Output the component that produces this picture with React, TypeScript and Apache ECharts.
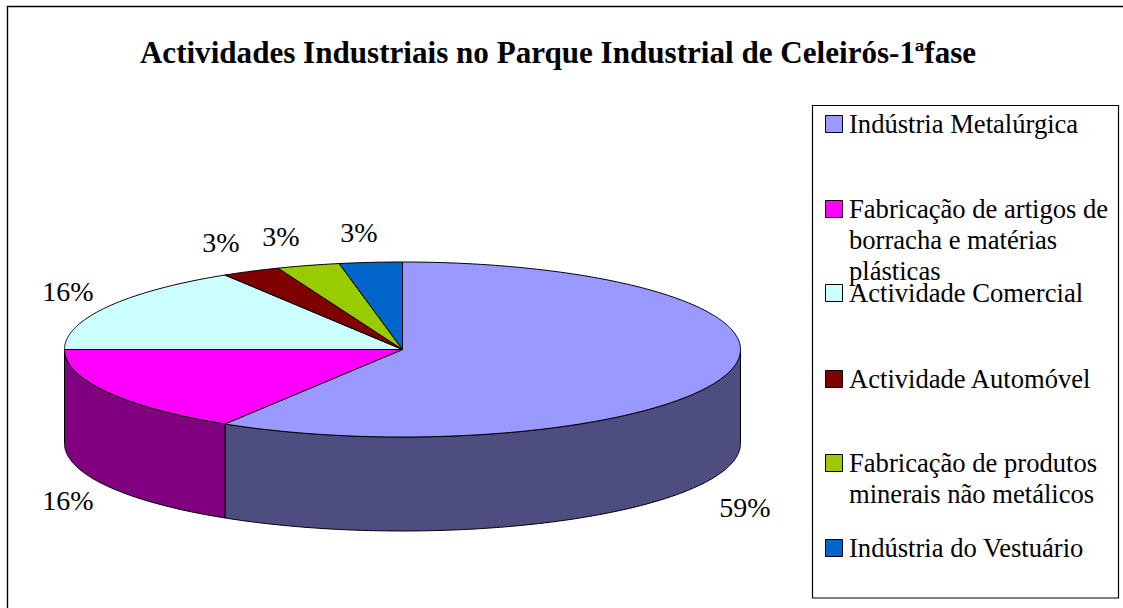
import React, { useEffect, useRef } from "react";
import * as echarts from "echarts";

const titleText = "Actividades Industriais no Parque Industrial de Celeirós-1ªfase";
const categories = [
  "Indústria Metalúrgica",
  "Fabricação de artigos de\nborracha e matérias\nplásticas",
  "Actividade Comercial",
  "Actividade Automóvel",
  "Fabricação de produtos\nminerais não metálicos",
  "Indústria do Vestuário",
];
const values = [58.8, 16.2, 16.2, 2.8, 3.0, 3.0];
const topColors = ["#9999FF", "#FF00FF", "#CCFFFF", "#800000", "#99CC00", "#0066CC"];
const sideColors = ["#4D4D80", "#800080", "#668080", "#400000", "#4D6600", "#003366"];

const CX = 402.5;
const CY = 349.5;
const RX = 338;
const RY = 87.5;
const DEPTH = 94;
const FONT = '"Liberation Serif", "Times New Roman", serif';
const labelPos = [
  [745, 507],
  [68, 500],
  [68, 291],
  [221, 242],
  [281, 236],
  [359, 232],
];
const legendTops = [124, 209, 293, 379, 463, 548];

const total = values.reduce((a, b) => a + b, 0);
const pt = (deg: number, dy = 0) => {
  const r = (deg * Math.PI) / 180;
  return [CX + RX * Math.sin(r), CY - RY * Math.cos(r) + dy];
};
const arc = (a: number, b: number, dy = 0) => {
  const n = Math.max(2, Math.ceil(Math.abs(b - a) * 1.5));
  const out: number[][] = [];
  for (let i = 0; i <= n; i++) out.push(pt(a + ((b - a) * i) / n, dy));
  return out;
};

const renderItem = (_p: any, api: any) => {
  const i = _p.dataIndex;
  const before = values.slice(0, i).reduce((a, b) => a + b, 0);
  const a0 = (before / total) * 360;
  const a1 = a0 + (api.value(0) / total) * 360;
  const children: any[] = [];
  const wa = Math.max(a0, 90);
  const wb = Math.min(a1, 270);
  if (wb > wa) {
    const pts = [...arc(wa, wb), ...arc(wb, wa, DEPTH)];
    children.push({
      type: "polygon",
      shape: { points: pts },
      style: { fill: sideColors[i], stroke: "#000", lineWidth: 1, lineJoin: "round" },
    });
  }
  children.push({
    type: "polygon",
    shape: { points: [[CX, CY], ...arc(a0, a1)] },
    style: { fill: topColors[i], stroke: "#000", lineWidth: 1, lineJoin: "round" },
  });
  children.push({
    type: "text",
    style: {
      text: `${Math.round((api.value(0) / total) * 100)}%`,
      x: labelPos[i][0],
      y: labelPos[i][1],
      align: "center",
      verticalAlign: "middle",
      font: `28px ${FONT}`,
      fill: "#000",
    },
  });
  return { type: "group", children };
};

export default function App() {
  const ref = useRef<HTMLDivElement>(null);
  useEffect(() => {
    const chart = echarts.init(ref.current!, undefined, { renderer: "svg" });
    const legendEls: any[] = [];
    categories.forEach((c, i) => {
      legendEls.push({
        type: "rect",
        shape: { x: 825.5, y: legendTops[i] - 8.5, width: 17, height: 17 },
        style: { fill: topColors[i], stroke: "#000", lineWidth: 1 },
      });
      legendEls.push({
        type: "text",
        x: 849,
        y: legendTops[i] - 15.5,
        style: {
          text: c,
          font: `26.6px ${FONT}`,
          lineHeight: 31,
          fill: "#000",
          align: "left",
          verticalAlign: "top",
        },
      });
    });
    chart.setOption({
      animation: false,
      backgroundColor: "#fff",
      title: {
        text: titleText,
        left: 553,
        top: 32,
        textAlign: "center",
        textStyle: { fontFamily: FONT, fontWeight: "bold", fontSize: 31.1, color: "#000" },
      },
      graphic: [
        {
          type: "rect",
          z: -1,
          shape: { x: 7.5, y: 6.5, width: 1130, height: 620 },
          style: { fill: "#fff", stroke: "#000", lineWidth: 1.4 },
        },
        {
          type: "rect",
          z: 1,
          shape: { x: 812.5, y: 105.5, width: 306, height: 492.5 },
          style: { fill: "#fff", stroke: "#000", lineWidth: 1.2 },
        },
        ...legendEls.map((e) => ({ ...e, z: 2 })),
      ],
      series: [
        {
          type: "custom",
          coordinateSystem: "none",
          renderItem,
          silent: true,
          data: values.map((v, i) => ({ name: categories[i], value: [v] })),
        },
      ],
    });
    return () => chart.dispose();
  }, []);
  return <div ref={ref} style={{ position: "fixed", left: 0, top: 0, width: 1123, height: 608 }} />;
}
